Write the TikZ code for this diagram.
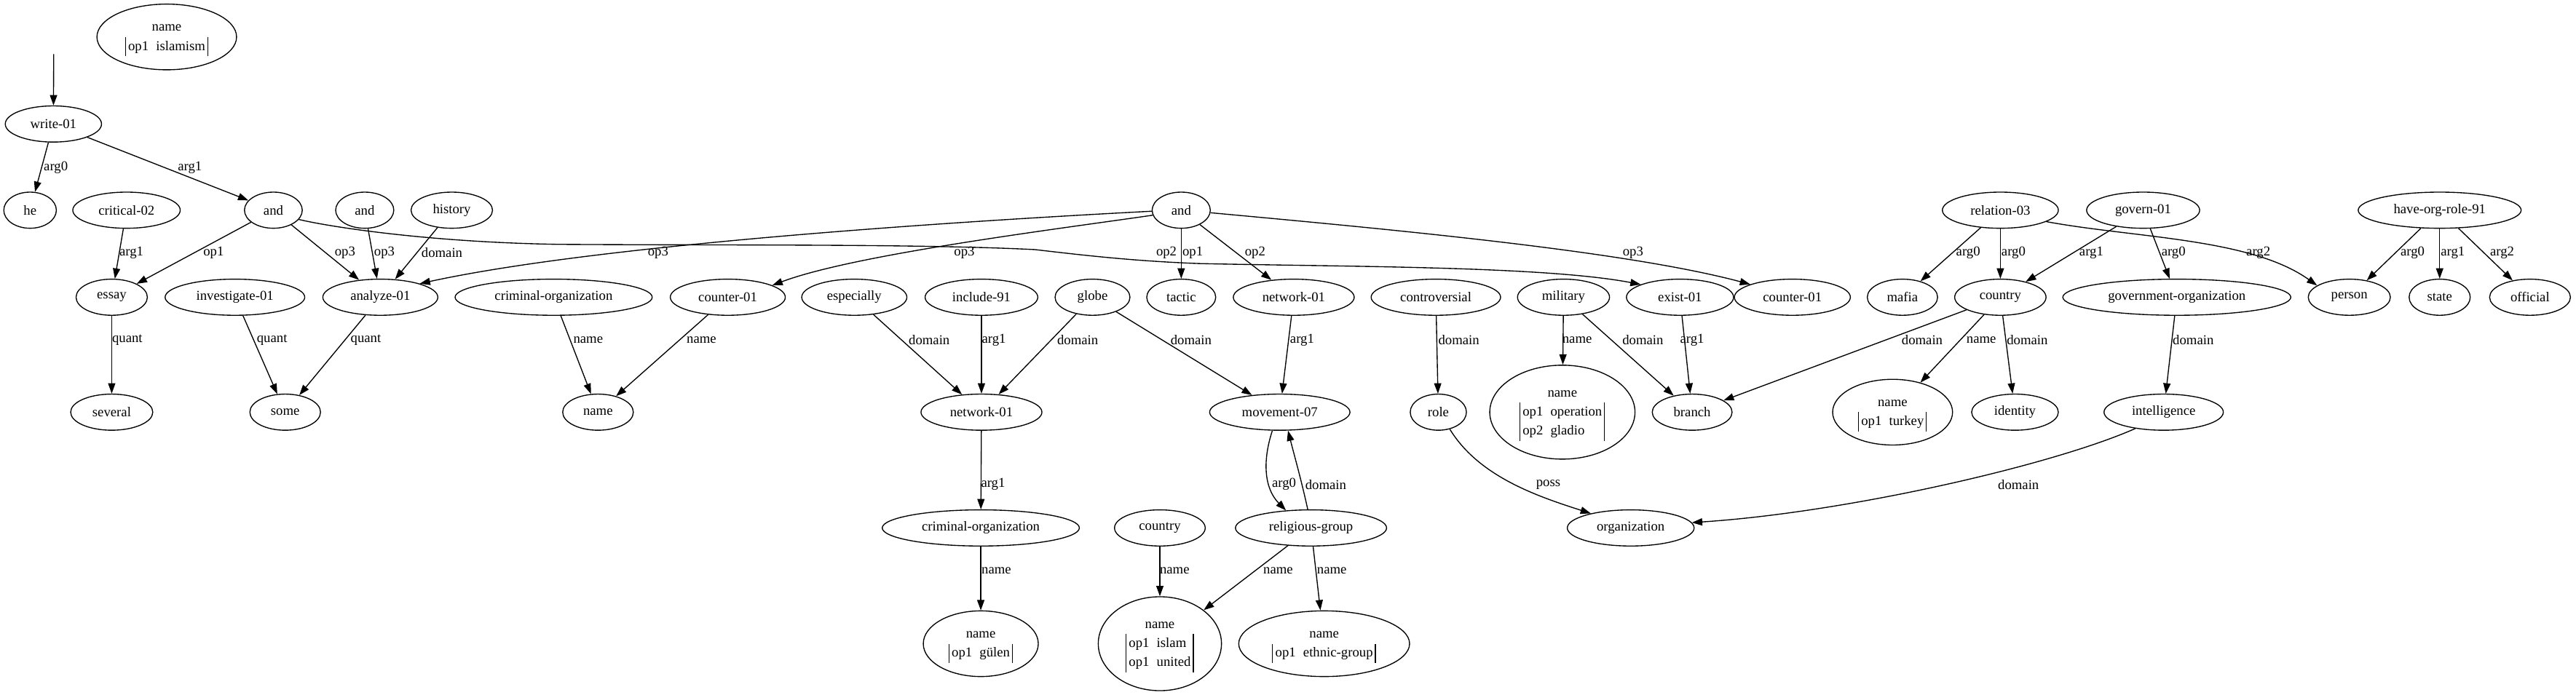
\documentclass[tikz,border=0pt]{standalone}
\usepackage{fontspec}
\setmainfont{Liberation Serif}
\usetikzlibrary{shapes.geometric,arrows.meta}
\newcommand{\gfs}{\fontsize{8.3}{11.6}\selectfont}
\setlength{\arrayrulewidth}{0.5pt}
\newcommand{\nmtab}[1]{\begin{tabular}{@{}|@{\hspace{1.5pt}}l@{\hspace{4.5pt}}l@{\hspace{1.5pt}}|@{}}\multicolumn{2}{@{}c@{}}{name}\\ #1\end{tabular}}
\begin{document}
\begin{tikzpicture}[x=1pt,y=-1pt,
  nd/.style={draw, ellipse, line width=0.6pt, inner sep=0pt, minimum height=22pt, font=\gfs},
  ed/.style={-{Triangle[length=6.3pt,width=4.4pt]}, line width=0.6pt},
  lb/.style={font=\gfs, inner sep=0pt}]
\useasboundingbox (0,0) rectangle (1568,423);
% row 0-2
\node[nd, minimum width=85pt, minimum height=40pt] (nisl) at (101.5,22.5) {\nmtab{op1 & islamism}};
\coordinate (top) at (32.7,33);
\node[nd, minimum width=58.6pt] (write) at (32.5,75.5) {write-01};
\node[nd, minimum width=32pt] (he) at (18.3,128) {he};
\node[nd, minimum width=65.4pt] (crit) at (77,128) {critical-02};
\node[nd, minimum width=35.2pt] (andA) at (166.4,128) {and};
\node[nd, minimum width=35.4pt] (andB) at (222,128) {and};
\node[nd, minimum width=49.6pt] (hist) at (275,128) {history};
\node[nd, minimum width=35.4pt] (andC) at (719,128) {and};
\node[nd, minimum width=70.6pt] (rel) at (1217.6,128) {relation-03};
\node[nd, minimum width=68.8pt] (gov) at (1304.5,128) {govern-01};
\node[nd, minimum width=99.2pt] (hor) at (1485,128) {have-org-role-91};
% row 3
\node[nd, minimum width=43.4pt] (essay) at (68,181) {essay};
\node[nd, minimum width=85pt] (inv) at (143,181) {investigate-01};
\node[nd, minimum width=70pt] (ana) at (231.5,181) {analyze-01};
\node[nd, minimum width=120pt] (crim) at (337,181) {criminal-organization};
\node[nd, minimum width=70pt] (cntA) at (443,181) {counter-01};
\node[nd, minimum width=64pt] (esp) at (520,181) {especially};
\node[nd, minimum width=68.6pt] (inc) at (597.4,181) {include-91};
\node[nd, minimum width=45.6pt] (globe) at (665,181) {globe};
\node[nd, minimum width=42pt] (tactic) at (719,181) {tactic};
\node[nd, minimum width=73.6pt] (netB) at (787.5,181) {network-01};
\node[nd, minimum width=78.8pt] (contr) at (874,181) {controversial};
\node[nd, minimum width=56pt] (mil) at (951.7,181) {military};
\node[nd, minimum width=65.2pt] (exist) at (1022.6,181) {exist-01};
\node[nd, minimum width=70.6pt] (cntB) at (1091,181) {counter-01};
\node[nd, minimum width=42.8pt] (mafia) at (1158,181) {mafia};
\node[nd, minimum width=55.6pt] (ctry) at (1217.6,181) {country};
\node[nd, minimum width=138.8pt] (govorg) at (1325,181) {government-organization};
\node[nd, minimum width=50pt] (person) at (1430,181) {person};
\node[nd, minimum width=37.2pt] (state) at (1485,181) {state};
\node[nd, minimum width=49.2pt] (official) at (1540,181) {official};
% row 4
\node[nd, minimum width=50pt] (several) at (68,251) {several};
\node[nd, minimum width=43pt] (some) at (173.6,251) {some};
\node[nd, minimum width=43pt] (nmA) at (364,251) {name};
\node[nd, minimum width=73.6pt] (netA) at (597.4,251) {network-01};
\node[nd, minimum width=85.4pt] (move) at (779,251) {movement-07};
\node[nd, minimum width=34.2pt] (role) at (875.5,251) {role};
\node[nd, minimum width=88.4pt, minimum height=57.2pt] (nglad) at (951,251) {\nmtab{op1 & operation\\ op2 & gladio}};
\node[nd, minimum width=48.6pt] (branch) at (1030,251) {branch};
\node[nd, minimum width=73pt, minimum height=40pt] (ntur) at (1152,251) {\nmtab{op1 & turkey}};
\node[nd, minimum width=52.8pt] (ident) at (1226.5,251) {identity};
\node[nd, minimum width=72.6pt] (intel) at (1317,251) {intelligence};
% row 5
\node[nd, minimum width=120pt] (crimB) at (597,321.5) {criminal-organization};
\node[nd, minimum width=55.2pt] (ctryB) at (706,321.5) {country};
\node[nd, minimum width=92pt] (relg) at (798,321.5) {religious-group};
\node[nd, minimum width=77.2pt] (org) at (992.6,321.5) {organization};
% row 6
\node[nd, minimum width=70pt, minimum height=40pt] (ngul) at (597,392) {\nmtab{op1 & gülen}};
\node[nd, minimum width=75pt, minimum height=57.2pt] (nism) at (706,392) {\nmtab{op1 & islam\\ op1 & united}};
\node[nd, minimum width=104pt, minimum height=40pt] (neth) at (806,392) {\nmtab{op1 & ethnic-group}};

% edges
\draw[ed] (top) -- (write);
\draw[ed] (write) -- (he);
\draw[ed] (write) -- (andA);
\draw[ed] (crit) -- (essay);
\draw[ed] (andA) -- (essay);
\draw[ed] (andA) -- (ana);
\draw[ed] (andA.-20) .. controls (200,138) and (260,147.5) .. (340,148.8) .. controls (450,149.5) and (560,148.5) .. (630,152) .. controls (660,155.5) and (690,159) .. (730,160.5) .. controls (820,162.5) and (940,162) .. (exist.162);
\draw[ed] (andB) -- (ana);
\draw[ed] (hist) -- (ana);
\draw[ed] (andC.182) .. controls (560,136) and (360,150) .. (ana.19);
\draw[ed] (andC.190) .. controls (640,140) and (520,155) .. (cntA.15);
\draw[ed] (andC) -- (tactic);
\draw[ed] (andC) -- (netB);
\draw[ed] (andC.-5) .. controls (850,140) and (990,153) .. (cntB.163);
\draw[ed] (rel) -- (mafia);
\draw[ed] (rel) -- (ctry);
\draw[ed] (rel.-14) .. controls (1300,145) and (1370,145) .. (person.160);
\draw[ed] (gov) -- (ctry);
\draw[ed] (gov) -- (govorg);
\draw[ed] (hor) -- (person);
\draw[ed] (hor) -- (state);
\draw[ed] (hor) -- (official);
\draw[ed] (essay) -- (several);
\draw[ed] (inv) -- (some);
\draw[ed] (ana) -- (some);
\draw[ed] (crim) -- (nmA);
\draw[ed] (cntA) -- (nmA);
\draw[ed] (esp) -- (netA);
\draw[ed] (inc) -- (netA);
\draw[ed] (globe) -- (netA);
\draw[ed] (globe) -- (move);
\draw[ed] (netB) -- (move);
\draw[ed] (contr) -- (role);
\draw[ed] (mil) -- (nglad);
\draw[ed] (mil) -- (branch);
\draw[ed] (exist) -- (branch);
\draw[ed] (ctry) -- (branch);
\draw[ed] (ctry) -- (ntur);
\draw[ed] (ctry) -- (ident);
\draw[ed] (govorg) -- (intel);
\draw[ed] (netA) -- (crimB);
\draw[ed] (move.-112) .. controls (768,282) and (770,298) .. (relg.145);
\draw[ed] (relg.100) .. controls (792,292) and (788,278) .. (move.-66);
\draw[ed] (role.-56) .. controls (900,290) and (935,302) .. (org.160);
\draw[ed] (intel.210) .. controls (1250,283) and (1125,312) .. (org.5);
\draw[ed] (crimB) -- (ngul);
\draw[ed] (ctryB) -- (nism);
\draw[ed] (relg) -- (nism);
\draw[ed] (relg) -- (neth);

% labels
\node[lb] (l1) at (34,102) {arg0};
\node[lb] (l2) at (115.6,102) {arg1};
\node[lb] (l3) at (80,154) {arg1};
\node[lb] (l4) at (130,154) {op1};
\node[lb] (l5) at (210,154) {op3};
\node[lb] (l6) at (710,154) {op2};
\node[lb] (l7) at (234,154) {op3};
\node[lb] (l8) at (269,154) {domain};
\node[lb] (l9) at (400.6,154) {op3};
\node[lb] (l10) at (587,154) {op3};
\node[lb] (l11) at (726,154) {op1};
\node[lb] (l12) at (764,154) {op2};
\node[lb] (l13) at (994,154) {op3};
\node[lb] (l14) at (1198,154) {arg0};
\node[lb] (l15) at (1225.6,154) {arg0};
\node[lb] (l16) at (1374.6,154) {arg2};
\node[lb] (l17) at (1273,154) {arg1};
\node[lb] (l18) at (1323,154) {arg0};
\node[lb] (l19) at (1468.5,154) {arg0};
\node[lb] (l20) at (1493,154) {arg1};
\node[lb] (l21) at (1523,154) {arg2};
\node[lb] (l22) at (77.5,207) {quant};
\node[lb] (l23) at (165.6,207) {quant};
\node[lb] (l24) at (222.7,207) {quant};
\node[lb] (l25) at (358,207) {name};
\node[lb] (l26) at (427,207) {name};
\node[lb] (l27) at (565.6,207) {domain};
\node[lb] (l28) at (605,207) {arg1};
\node[lb] (l29) at (656,207) {domain};
\node[lb] (l30) at (725,207) {domain};
\node[lb] (l31) at (792.6,207) {arg1};
\node[lb] (l32) at (888,207) {domain};
\node[lb] (l33) at (960,207) {name};
\node[lb] (l34) at (1000,207) {domain};
\node[lb] (l35) at (1030,207) {arg1};
\node[lb] (l36) at (1170,207) {domain};
\node[lb] (l37) at (1206,207) {name};
\node[lb] (l38) at (1234,207) {domain};
\node[lb] (l39) at (1335,207) {domain};
\node[lb] (l40) at (604.5,295) {arg1};
\node[lb] (l41) at (781.6,295) {arg0};
\node[lb] (l42) at (807,295) {domain};
\node[lb] (l43) at (942.4,295) {poss};
\node[lb] (l44) at (1228.6,295) {domain};
\node[lb] (l45) at (606.5,347.5) {name};
\node[lb] (l46) at (715,347.5) {name};
\node[lb] (l47) at (778,347.5) {name};
\node[lb] (l48) at (810.7,347.5) {name};
\end{tikzpicture}
\end{document}
